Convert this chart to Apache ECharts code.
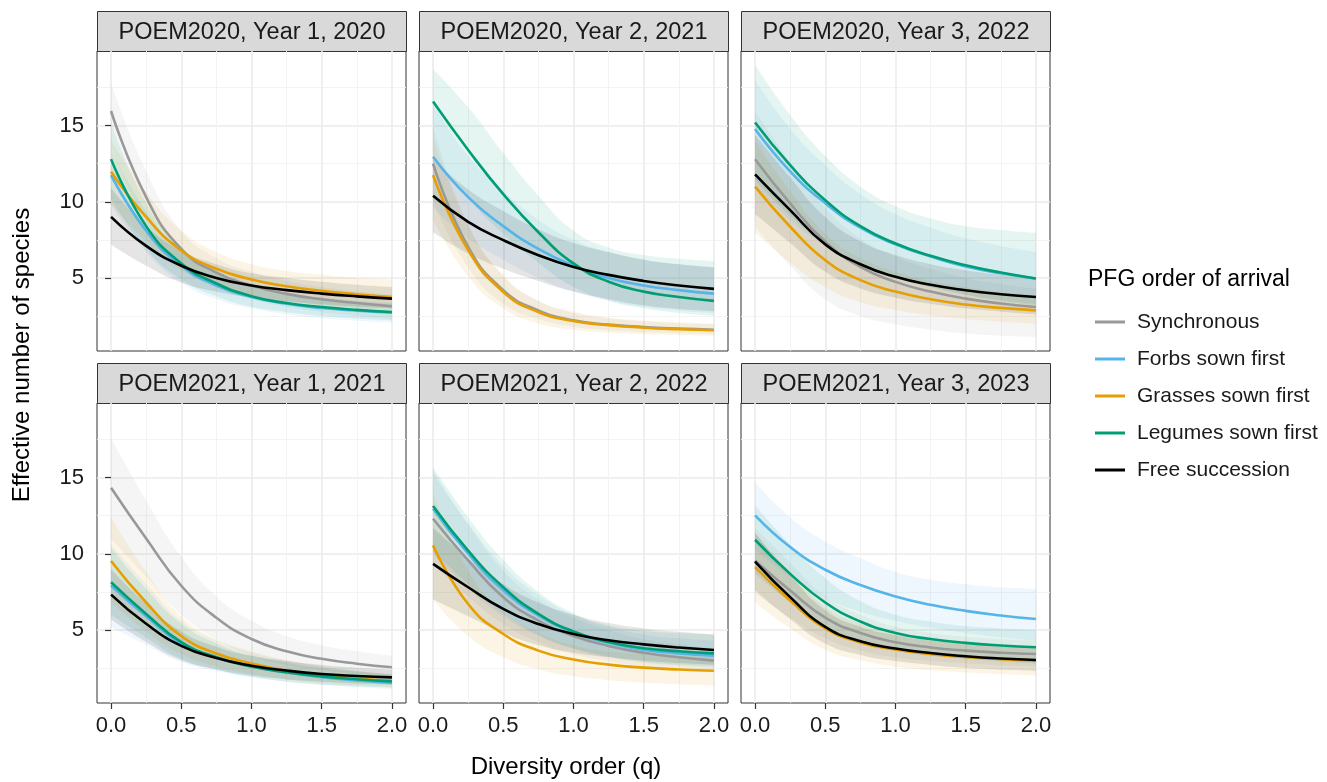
<!DOCTYPE html>
<html>
<head>
<meta charset="utf-8">
<script src="https://cdn.jsdelivr.net/npm/echarts@6/dist/echarts.min.js"></script>
<style>
  html, body { margin: 0; padding: 0; background: #ffffff; }
  #chart { width: 1327px; height: 782px; }
</style>
</head>
<body>
<div id="chart"></div>
<script>
// Diversity order q at which each profile is evaluated
const qValues = [0, 0.25, 0.5, 0.75, 1, 1.25, 1.5, 1.75, 2];

// Facet titles, row by row
const panelTitles = [
  'POEM2020, Year 1, 2020', 'POEM2020, Year 2, 2021', 'POEM2020, Year 3, 2022',
  'POEM2021, Year 1, 2021', 'POEM2021, Year 2, 2022', 'POEM2021, Year 3, 2023'
];

const groupNames = ['Synchronous', 'Forbs sown first', 'Grasses sown first', 'Legumes sown first', 'Free succession'];
const xTickValues = [0, 0.5, 1, 1.5, 2];
const yTickValues = [5, 10, 15];

// Effective number of species (one row per facet) with confidence bounds
const synchronousMean = [
  [15.96, 10.3, 6.9, 5.35, 4.5, 3.95, 3.6, 3.35, 3.14],
  [12.5, 7.04, 4.19, 2.87, 2.21, 1.93, 1.78, 1.67, 1.6],
  [12.79, 9.89, 7.37, 5.72, 4.74, 4.1, 3.64, 3.32, 3.09],
  [14.34, 11.0, 7.9, 5.8, 4.4, 3.6, 3.1, 2.78, 2.55],
  [12.3, 9.56, 7.15, 5.61, 4.6, 3.95, 3.5, 3.2, 2.98],
  [9.56, 7.58, 5.8, 4.8, 4.19, 3.85, 3.64, 3.5, 3.42]
];
const synchronousLower = [
  [13.6, 8.7, 5.7, 4.4, 3.6, 3.1, 2.75, 2.5, 2.3],
  [10.0, 5.7, 3.3, 2.3, 1.8, 1.57, 1.45, 1.36, 1.3],
  [8.4, 5.8, 3.6, 2.5, 1.95, 1.6, 1.35, 1.2, 1.1],
  [11.0, 8.5, 6.0, 4.4, 3.3, 2.7, 2.35, 2.1, 1.9],
  [9.3, 7.2, 5.4, 4.2, 3.4, 2.95, 2.6, 2.38, 2.2],
  [7.4, 5.8, 4.45, 3.65, 3.2, 2.95, 2.8, 2.68, 2.6]
];
const synchronousUpper = [
  [17.8, 12.0, 8.1, 6.3, 5.4, 4.8, 4.4, 4.1, 3.9],
  [15.0, 8.5, 5.1, 3.5, 2.7, 2.35, 2.15, 2.03, 1.95],
  [16.0, 12.6, 9.6, 7.6, 6.4, 5.6, 5.0, 4.6, 4.3],
  [17.6, 13.5, 9.8, 7.2, 5.6, 4.6, 4.0, 3.6, 3.3],
  [15.3, 11.9, 8.9, 7.0, 5.8, 5.0, 4.4, 4.05, 3.8],
  [11.7, 9.4, 7.2, 6.0, 5.2, 4.8, 4.55, 4.4, 4.3]
];

const forbsMean = [
  [11.75, 8.1, 5.8, 4.5, 3.75, 3.3, 3.02, 2.85, 2.72],
  [12.96, 10.3, 8.4, 6.9, 5.8, 5.0, 4.5, 4.2, 3.97],
  [14.78, 12.0, 9.9, 8.3, 7.2, 6.4, 5.75, 5.3, 4.95],
  [7.92, 5.9, 4.1, 3.2, 2.6, 2.2, 1.9, 1.68, 1.52],
  [12.96, 10.0, 7.6, 5.95, 4.85, 4.15, 3.7, 3.46, 3.31],
  [12.52, 10.44, 8.95, 7.95, 7.2, 6.65, 6.25, 5.95, 5.72]
];
const forbsLower = [
  [9.8, 6.7, 4.7, 3.6, 3.0, 2.6, 2.35, 2.18, 2.05],
  [9.6, 7.6, 6.2, 5.0, 4.1, 3.5, 3.1, 2.85, 2.7],
  [11.0, 8.8, 7.1, 5.9, 5.0, 4.4, 3.9, 3.55, 3.3],
  [5.2, 4.0, 2.9, 2.3, 1.9, 1.6, 1.4, 1.23, 1.1],
  [10.0, 7.7, 5.9, 4.6, 3.75, 3.2, 2.85, 2.65, 2.5],
  [10.3, 8.5, 7.1, 6.2, 5.6, 5.15, 4.8, 4.52, 4.3]
];
const forbsUpper = [
  [13.4, 9.4, 6.8, 5.3, 4.5, 4.0, 3.7, 3.5, 3.35],
  [16.5, 13.0, 10.7, 8.8, 7.5, 6.7, 6.2, 5.9, 5.7],
  [18.0, 14.8, 12.4, 10.5, 9.2, 8.3, 7.6, 7.1, 6.7],
  [10.6, 8.0, 5.6, 4.3, 3.5, 3.0, 2.6, 2.3, 2.0],
  [15.5, 12.0, 9.2, 7.3, 6.0, 5.2, 4.7, 4.45, 4.3],
  [14.7, 12.4, 10.8, 9.7, 8.8, 8.3, 8.0, 7.8, 7.7]
];

const grassesMean = [
  [11.97, 9.0, 6.8, 5.6, 4.9, 4.45, 4.15, 3.93, 3.75],
  [11.75, 6.82, 4.08, 2.76, 2.17, 1.9, 1.73, 1.63, 1.56],
  [10.99, 8.36, 6.16, 4.85, 4.1, 3.6, 3.25, 3.03, 2.87],
  [9.52, 6.8, 4.6, 3.45, 2.8, 2.33, 2.0, 1.8, 1.66],
  [10.55, 6.7, 4.73, 3.64, 3.05, 2.72, 2.52, 2.4, 2.32],
  [9.12, 6.93, 5.1, 4.18, 3.72, 3.42, 3.22, 3.08, 2.98]
];
const grassesLower = [
  [9.8, 7.4, 5.5, 4.5, 3.9, 3.5, 3.2, 3.0, 2.9],
  [8.8, 5.1, 3.0, 2.0, 1.6, 1.4, 1.3, 1.24, 1.2],
  [8.0, 6.0, 4.4, 3.4, 2.9, 2.55, 2.3, 2.12, 2.0],
  [6.8, 4.9, 3.4, 2.6, 2.1, 1.75, 1.5, 1.35, 1.25],
  [7.0, 4.6, 3.2, 2.4, 1.95, 1.7, 1.53, 1.42, 1.35],
  [6.8, 5.1, 3.7, 3.0, 2.6, 2.35, 2.2, 2.08, 2.0]
];
const grassesUpper = [
  [14.0, 10.6, 8.1, 6.7, 5.9, 5.45, 5.2, 5.0, 4.9],
  [14.3, 8.5, 5.2, 3.5, 2.8, 2.4, 2.2, 2.08, 2.0],
  [14.0, 10.7, 7.9, 6.3, 5.4, 4.8, 4.4, 4.05, 3.8],
  [12.4, 8.8, 5.9, 4.4, 3.6, 3.0, 2.6, 2.3, 2.1],
  [14.0, 8.9, 6.2, 4.8, 4.0, 3.6, 3.4, 3.28, 3.2],
  [11.4, 8.8, 6.5, 5.4, 4.8, 4.4, 4.15, 4.0, 3.9]
];

const legumesMean = [
  [12.8, 8.4, 5.95, 4.63, 3.8, 3.35, 3.09, 2.9, 2.76],
  [16.58, 13.4, 10.5, 8.0, 5.95, 4.75, 4.1, 3.75, 3.49],
  [15.2, 12.4, 10.1, 8.4, 7.26, 6.45, 5.83, 5.35, 4.96],
  [8.13, 6.05, 4.2, 3.2, 2.6, 2.22, 1.95, 1.76, 1.62],
  [13.13, 10.2, 7.8, 6.05, 4.9, 4.2, 3.8, 3.6, 3.46],
  [10.92, 8.68, 6.8, 5.55, 4.8, 4.4, 4.15, 3.98, 3.86]
];
const legumesLower = [
  [10.2, 6.9, 4.9, 3.8, 3.1, 2.75, 2.5, 2.33, 2.2],
  [13.0, 10.2, 7.9, 6.0, 4.4, 3.5, 3.0, 2.7, 2.5],
  [11.4, 9.1, 7.2, 5.9, 5.0, 4.4, 3.9, 3.5, 3.2],
  [6.0, 4.5, 3.1, 2.4, 1.9, 1.6, 1.4, 1.28, 1.2],
  [10.2, 8.0, 6.1, 4.7, 3.8, 3.25, 2.9, 2.72, 2.6],
  [8.7, 6.8, 5.25, 4.25, 3.65, 3.3, 3.1, 2.93, 2.8]
];
const legumesUpper = [
  [15.2, 9.9, 7.0, 5.5, 4.5, 4.0, 3.7, 3.45, 3.3],
  [18.7, 16.2, 13.2, 10.4, 8.1, 7.0, 6.5, 6.25, 6.1],
  [19.0, 15.7, 13.0, 11.0, 9.7, 8.9, 8.4, 8.15, 7.96],
  [10.4, 7.7, 5.4, 4.1, 3.3, 2.85, 2.5, 2.27, 2.1],
  [15.7, 12.4, 9.6, 7.5, 6.1, 5.3, 4.95, 4.8, 4.7],
  [13.2, 10.6, 8.4, 6.9, 6.0, 5.55, 5.25, 5.1, 5.0]
];

const freeMean = [
  [9.01, 7.1, 5.8, 5.0, 4.5, 4.2, 3.97, 3.79, 3.64],
  [10.39, 8.68, 7.48, 6.49, 5.72, 5.2, 4.8, 4.5, 4.28],
  [11.8, 9.45, 7.2, 5.9, 5.07, 4.55, 4.19, 3.93, 3.75],
  [7.32, 5.4, 3.95, 3.15, 2.65, 2.33, 2.1, 1.97, 1.88],
  [9.34, 7.8, 6.38, 5.39, 4.73, 4.32, 4.05, 3.84, 3.68],
  [9.49, 7.15, 5.2, 4.25, 3.78, 3.48, 3.27, 3.12, 3.02]
];
const freeLower = [
  [7.2, 5.8, 4.7, 4.1, 3.7, 3.45, 3.25, 3.1, 3.0],
  [8.0, 6.6, 5.6, 4.8, 4.1, 3.6, 3.2, 2.95, 2.8],
  [9.2, 7.3, 5.4, 4.3, 3.7, 3.3, 3.0, 2.78, 2.6],
  [5.7, 4.2, 3.0, 2.4, 2.0, 1.75, 1.6, 1.48, 1.4],
  [7.0, 5.9, 4.8, 4.0, 3.5, 3.2, 2.98, 2.82, 2.7],
  [7.6, 5.7, 4.1, 3.35, 2.95, 2.7, 2.5, 2.38, 2.3]
];
const freeUpper = [
  [10.9, 8.4, 6.8, 5.9, 5.3, 5.0, 4.75, 4.55, 4.4],
  [12.8, 10.8, 9.4, 8.2, 7.3, 6.7, 6.2, 5.9, 5.7],
  [14.4, 11.6, 9.0, 7.4, 6.5, 5.9, 5.5, 5.2, 5.0],
  [9.0, 6.7, 4.9, 3.9, 3.3, 2.95, 2.7, 2.52, 2.4],
  [11.7, 9.7, 8.0, 6.8, 6.0, 5.45, 5.1, 4.88, 4.7],
  [11.4, 8.6, 6.3, 5.2, 4.65, 4.3, 4.1, 3.92, 3.8]
];

// ---- styling & layout ----
const FONT = '"Liberation Sans", Arial, Helvetica, sans-serif';
const groupColors = ['#999999', '#56B4E9', '#E69F00', '#009E73', '#000000'];
const ribbonOpacity = 0.1;
const SMOOTH = 0.5;
const groupMeans = [synchronousMean, forbsMean, grassesMean, legumesMean, freeMean];
const groupLowers = [synchronousLower, forbsLower, grassesLower, legumesLower, freeLower];
const groupUppers = [synchronousUpper, forbsUpper, grassesUpper, legumesUpper, freeUpper];

const colLeft = [97, 419, 741];
const rowTop = [51, 403];
const panelW = 309, panelH = 300, stripH = 40;

const grids = [], xAxes = [], yAxes = [], series = [], graphics = [];

panelTitles.forEach((title, p) => {
  const row = Math.floor(p / 3), col = p % 3;
  const isBottom = row === 1, isLeft = col === 0;
  grids.push({
    left: colLeft[col], top: rowTop[row], width: panelW, height: panelH,
    show: true, borderColor: '#333333', borderWidth: 1, backgroundColor: '#ffffff'
  });
  xAxes.push({
    type: 'value', gridIndex: p, min: -0.1, max: 2.1,
    axisLine: { show: false },
    axisTick: { show: isBottom, customValues: xTickValues, length: 6, lineStyle: { color: '#333333', width: 1.2 } },
    axisLabel: {
      show: isBottom, customValues: xTickValues, margin: 12,
      fontFamily: FONT, fontSize: 22, color: '#1a1a1a',
      formatter: v => v.toFixed(1)
    },
    splitLine: { show: true, lineStyle: { color: '#EBEBEB', width: 1.6 } },
    minorTick: { show: false, splitNumber: 2 },
    minorSplitLine: { show: true, lineStyle: { color: '#F2F2F2', width: 0.9 } }
  });
  yAxes.push({
    type: 'value', gridIndex: p, min: 0.2, max: 19.9, splitNumber: 4,
    axisLine: { show: false },
    axisTick: { show: isLeft, customValues: yTickValues, length: 6, lineStyle: { color: '#333333', width: 1.2 } },
    axisLabel: {
      show: isLeft, customValues: yTickValues, margin: 13,
      fontFamily: FONT, fontSize: 22, color: '#1a1a1a'
    },
    splitLine: { show: true, lineStyle: { color: '#EBEBEB', width: 1.6 } },
    minorTick: { show: false, splitNumber: 2 },
    minorSplitLine: { show: true, lineStyle: { color: '#F2F2F2', width: 0.9 } }
  });

  // confidence ribbons: lower bound with the band width stacked on it.
  // Value goes in column 0 so the stack runs along y.
  groupNames.forEach((name, g) => {
    const lo = groupLowers[g][p], hi = groupUppers[g][p];
    const stackId = 'band-' + p + '-' + g;
    series.push({
      type: 'line', name: 'lower-' + p + '-' + g, xAxisIndex: p, yAxisIndex: p,
      stack: stackId, smooth: SMOOTH, symbol: 'none', silent: true,
      encode: { x: 1, y: 0 },
      lineStyle: { width: 0, opacity: 0 }, z: 1,
      data: qValues.map((q, k) => [lo[k], q])
    });
    series.push({
      type: 'line', name: 'band-' + p + '-' + g, xAxisIndex: p, yAxisIndex: p,
      stack: stackId, smooth: SMOOTH, symbol: 'none', silent: true,
      encode: { x: 1, y: 0 },
      lineStyle: { width: 0, opacity: 0 }, z: 1,
      areaStyle: { color: groupColors[g], opacity: ribbonOpacity },
      data: qValues.map((q, k) => [hi[k] - lo[k], q])
    });
  });
  // estimated profiles
  groupNames.forEach((name, g) => {
    series.push({
      type: 'line', name: name, xAxisIndex: p, yAxisIndex: p,
      smooth: SMOOTH, symbol: 'none', z: 3 + g,
      color: groupColors[g],
      itemStyle: { color: groupColors[g] },
      lineStyle: { color: groupColors[g], width: 2.6 },
      data: qValues.map((q, k) => [q, groupMeans[g][p][k]])
    });
  });

  // facet strip
  graphics.push({
    type: 'group', left: colLeft[col], top: rowTop[row] - stripH,
    children: [
      { type: 'rect', shape: { x: 0, y: 0, width: panelW, height: stripH },
        style: { fill: '#D9D9D9', stroke: '#333333', lineWidth: 1 } },
      { type: 'text', x: panelW / 2, y: stripH / 2 + 1,
        style: { text: title, fontFamily: FONT, fontSize: 23.5, fill: '#1a1a1a', align: 'center', verticalAlign: 'middle' } }
    ]
  });
});

graphics.push({
  type: 'text', x: 566, y: 767,
  style: { text: 'Diversity order (q)', fontFamily: FONT, fontSize: 24, fill: '#000000', align: 'center', verticalAlign: 'middle' }
});
graphics.push({
  type: 'text', x: 22, y: 355, rotation: Math.PI / 2,
  style: { text: 'Effective number of species', fontFamily: FONT, fontSize: 24, fill: '#000000', align: 'center', verticalAlign: 'middle' }
});
graphics.push({
  type: 'text', x: 1088, y: 280,
  style: { text: 'PFG order of arrival', fontFamily: FONT, fontSize: 23, fill: '#000000', align: 'left', verticalAlign: 'middle' }
});

const chart = echarts.init(document.getElementById('chart'), null, { renderer: 'canvas' });
chart.setOption({
  backgroundColor: '#ffffff',
  animation: false,
  grid: grids,
  xAxis: xAxes,
  yAxis: yAxes,
  legend: {
    data: groupNames,
    orient: 'vertical', left: 1090, top: 305,
    icon: 'rect', itemWidth: 30, itemHeight: 3, itemGap: 13,
    textStyle: { fontFamily: FONT, fontSize: 21, color: '#1a1a1a', lineHeight: 24, padding: [0, 0, 0, 7] },
    selectedMode: false
  },
  series: series,
  graphic: graphics
});
</script>
</body>
</html>
